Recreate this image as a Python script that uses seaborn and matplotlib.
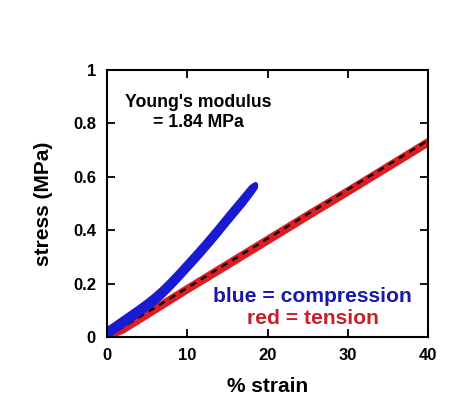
import matplotlib
matplotlib.use("Agg")
import matplotlib.pyplot as plt
import seaborn as sns
import pandas as pd

# Compression cycle (loading then unloading), % strain vs stress in MPa
comp_load_strain = [0, 1, 2, 3, 4, 5, 6, 7, 8, 9, 10, 11, 12, 13, 14, 15, 16, 17, 18, 18.5]
comp_load_stress = [0.026, 0.046, 0.067, 0.088, 0.109, 0.131, 0.155, 0.182, 0.212, 0.244,
                    0.277, 0.310, 0.344, 0.379, 0.415, 0.452, 0.488, 0.524, 0.560, 0.570]
comp_unload_strain = [18.5, 18, 17, 16, 15, 14, 13, 12, 11, 10, 9, 8, 7, 6, 5, 4, 3, 2, 1, 0]
comp_unload_stress = [0.562, 0.540, 0.500, 0.464, 0.428, 0.391, 0.355, 0.320, 0.286, 0.253,
                      0.220, 0.188, 0.158, 0.131, 0.109, 0.087, 0.066, 0.045, 0.024, 0.004]

# Tension cycle
tens_load_strain = [0, 2, 5, 10, 15, 20, 25, 30, 35, 40]
tens_load_stress = [0.0, 0.030, 0.088, 0.182, 0.274, 0.366, 0.458, 0.548, 0.640, 0.732]
tens_unload_strain = [40, 35, 30, 25, 20, 15, 10, 5, 2, 0]
tens_unload_stress = [0.726, 0.634, 0.542, 0.451, 0.359, 0.267, 0.176, 0.082, 0.026, 0.0]

# Linear fit
youngs_modulus = 1.84  # MPa
fit_strain = [0, 40]

x_ticks = [0, 10, 20, 30, 40]
y_ticks = [0, 0.2, 0.4, 0.6, 0.8, 1.0]
y_tick_labels = ["0", "0.2", "0.4", "0.6", "0.8", "1"]

sns.set_theme(style="ticks")
plt.rcParams["font.family"] = ["Liberation Sans", "DejaVu Sans"]
plt.rcParams["font.weight"] = "bold"
plt.rcParams["text.color"] = "black"
plt.rcParams["axes.labelcolor"] = "black"

fig = plt.figure(figsize=(4.76, 3.98), dpi=100)
ax = fig.add_axes([0.2248, 0.1533, 0.6744, 0.6708])

blue = "#1a1ad2"
red = "#dc1e24"


def draw_curve(xs, ys, color, lw, **kw):
    df = pd.DataFrame({"strain": xs, "stress": ys})
    sns.lineplot(data=df, x="strain", y="stress", sort=False, estimator=None,
                 color=color, lw=lw, ax=ax, solid_capstyle="round",
                 solid_joinstyle="round", **kw)


draw_curve(tens_load_strain, tens_load_stress, red, 5.0)
draw_curve(tens_unload_strain, tens_unload_stress, red, 5.0)

fit_stress = [youngs_modulus * s / 100 for s in fit_strain]
df_fit = pd.DataFrame({"strain": fit_strain, "stress": fit_stress})
sns.lineplot(data=df_fit, x="strain", y="stress", color="black", lw=1.6,
             ax=ax, linestyle=(0, (3, 2.5)))

draw_curve(comp_load_strain, comp_load_stress, blue, 4.0)
draw_curve(comp_unload_strain, comp_unload_stress, blue, 4.0)

ax.set_xlim(0, 40)
ax.set_ylim(0, 1)
ax.set_xticks(x_ticks)
ax.set_xticklabels([str(t) for t in x_ticks])
ax.set_yticks(y_ticks)
ax.set_yticklabels(y_tick_labels)
ax.tick_params(direction="in", length=6, width=1.3, top=True, right=True,
               labelsize=12, pad=8, colors="black")
for lab in ax.get_xticklabels() + ax.get_yticklabels():
    lab.set_fontweight("bold")
for sp in ax.spines.values():
    sp.set_visible(True)
    sp.set_linewidth(1.5)
    sp.set_color("black")

ax.set_xlabel("% strain", fontsize=15, fontweight="bold", labelpad=10, color="black")
ax.set_ylabel("stress (MPa)", fontsize=15, fontweight="bold", labelpad=14, color="black")

ax.text(0.285, 0.88, "Young's modulus", transform=ax.transAxes, ha="center",
        va="center", fontsize=12.7, fontweight="bold", color="black")
ax.text(0.285, 0.805, "= %.2f MPa" % youngs_modulus, transform=ax.transAxes,
        ha="center", va="center", fontsize=12.7, fontweight="bold", color="black")
ax.text(0.64, 0.15, "blue = compression", transform=ax.transAxes,
        ha="center", va="center", fontsize=15.2, fontweight="bold", color="#1818aa")
ax.text(0.64, 0.071, "red = tension", transform=ax.transAxes,
        ha="center", va="center", fontsize=15.2, fontweight="bold", color="#c8202a")

fig.savefig("out.png", dpi=100, facecolor="white")
